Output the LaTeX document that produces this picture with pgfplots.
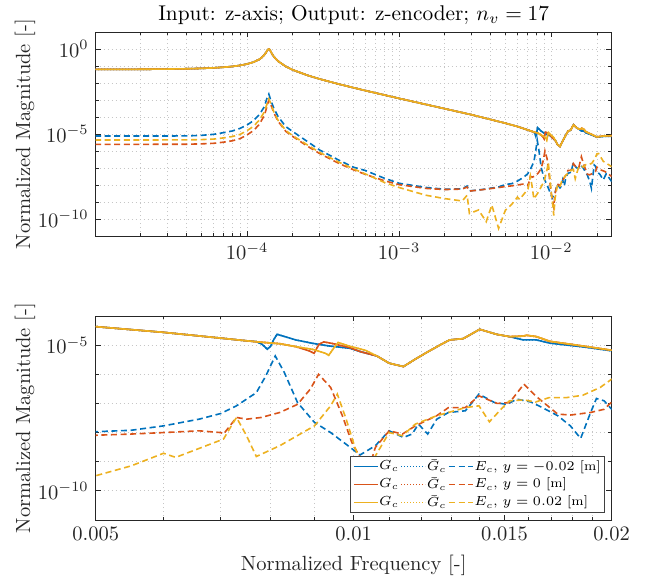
\RequirePackage{fix-cm}
\documentclass[border=0pt]{standalone}
\usepackage{pgfplots}
\pgfplotsset{compat=1.18}
\usepackage{pgfplotstable}
\definecolor{mb}{rgb}{0,0.447,0.741}
\definecolor{mr}{rgb}{0.85,0.325,0.098}
\definecolor{my}{rgb}{0.929,0.694,0.125}

\pgfplotstableread{
f m
1e-5 0.0632
2e-5 0.0640
3e-5 0.0661
4e-5 0.0687
5e-5 0.0723
6e-5 0.0774
7e-5 0.0845
8e-5 0.0942
9e-5 0.1085
1e-4 0.1307
1.1e-4 0.168
1.2e-4 0.242
1.25e-4 0.316
1.3e-4 0.457
1.33e-4 0.609
1.35e-4 0.756
1.37e-4 0.926
1.39e-4 1.0
1.41e-4 0.903
1.43e-4 0.727
1.46e-4 0.515
1.5e-4 0.353
1.6e-4 0.192
1.8e-4 0.093
2e-4 0.0589
2.5e-4 0.0282
3e-4 0.0172
4e-4 0.00865
6e-4 0.00357
1e-3 0.00124
2e-3 3.06e-4
3e-3 1.355e-4
4e-3 7.1e-5
5e-3 4.32e-5
6e-3 2.75e-5
7e-3 1.74e-5
7.5e-3 1.41e-5
7.7e-3 1.32e-5
7.82e-3 1.07e-5
7.93e-3 7.2e-6
8.0e-3 9.3e-6
8.07e-3 1.58e-5
8.14e-3 2.36e-5
8.26e-3 2.07e-5
8.56e-3 1.51e-5
8.95e-3 1.16e-5
9.35e-3 9.4e-6
9.9e-3 7.8e-6
1.02e-2 5.89e-6
1.064e-2 4.27e-6
1.1e-2 2.4e-6
1.143e-2 1.84e-6
1.18e-2 3.31e-6
1.216e-2 5.55e-6
1.26e-2 1.0e-5
1.294e-2 1.51e-5
1.342e-2 1.67e-5
1.37e-2 2.35e-5
1.403e-2 3.49e-5
1.468e-2 2.35e-5
1.52e-2 1.96e-5
1.577e-2 1.51e-5
1.634e-2 1.51e-5
1.694e-2 1.17e-5
1.853e-2 8.7e-6
1.995e-2 6.46e-6
2.2e-2 7.2e-6
2.5e-2 7.4e-6
}\Gb

\pgfplotstableread{
f m
1e-5 0.0632
2e-5 0.0640
3e-5 0.0661
4e-5 0.0687
5e-5 0.0723
6e-5 0.0774
7e-5 0.0845
8e-5 0.0942
9e-5 0.1085
1e-4 0.1307
1.1e-4 0.168
1.2e-4 0.242
1.25e-4 0.316
1.3e-4 0.457
1.33e-4 0.609
1.35e-4 0.756
1.37e-4 0.926
1.39e-4 1.0
1.41e-4 0.903
1.43e-4 0.727
1.46e-4 0.515
1.5e-4 0.353
1.6e-4 0.192
1.8e-4 0.093
2e-4 0.0589
2.5e-4 0.0282
3e-4 0.0172
4e-4 0.00865
6e-4 0.00357
1e-3 0.00124
2e-3 3.06e-4
3e-3 1.355e-4
4e-3 7.1e-5
5e-3 4.32e-5
6e-3 2.75e-5
7e-3 1.74e-5
7.5e-3 1.41e-5
7.8e-3 1.26e-5
8.2e-3 1.12e-5
8.56e-3 8.9e-6
8.88e-3 6.3e-6
8.99e-3 5.25e-6
9.11e-3 1.07e-5
9.23e-3 1.29e-5
9.43e-3 1.15e-5
9.88e-3 8.3e-6
1.02e-2 5.89e-6
1.064e-2 4.27e-6
1.1e-2 2.4e-6
1.143e-2 1.84e-6
1.18e-2 3.31e-6
1.216e-2 5.55e-6
1.26e-2 1.0e-5
1.294e-2 1.51e-5
1.342e-2 1.67e-5
1.37e-2 2.35e-5
1.403e-2 3.49e-5
1.468e-2 2.35e-5
1.52e-2 1.96e-5
1.577e-2 2.04e-5
1.591e-2 2.18e-5
1.634e-2 1.96e-5
1.694e-2 1.35e-5
1.853e-2 9.3e-6
1.995e-2 6.76e-6
2.2e-2 7.6e-6
2.5e-2 7.9e-6
}\Gr

\pgfplotstableread{
f m
1e-5 0.0632
2e-5 0.0640
3e-5 0.0661
4e-5 0.0687
5e-5 0.0723
6e-5 0.0774
7e-5 0.0845
8e-5 0.0942
9e-5 0.1085
1e-4 0.1307
1.1e-4 0.168
1.2e-4 0.242
1.25e-4 0.316
1.3e-4 0.457
1.33e-4 0.609
1.35e-4 0.756
1.37e-4 0.926
1.39e-4 1.0
1.41e-4 0.903
1.43e-4 0.727
1.46e-4 0.515
1.5e-4 0.353
1.6e-4 0.192
1.8e-4 0.093
2e-4 0.0589
2.5e-4 0.0282
3e-4 0.0172
4e-4 0.00865
6e-4 0.00357
1e-3 0.00124
2e-3 3.06e-4
3e-3 1.355e-4
4e-3 7.1e-5
5e-3 4.32e-5
6e-3 2.75e-5
7e-3 1.74e-5
7.5e-3 1.41e-5
7.8e-3 1.26e-5
8.2e-3 1.12e-5
8.56e-3 8.9e-6
8.95e-3 7.2e-6
9.27e-3 5.25e-6
9.35e-3 4.47e-6
9.49e-3 8.3e-6
9.59e-3 1.23e-5
9.88e-3 9.3e-6
1.033e-2 6.6e-6
1.064e-2 4.27e-6
1.1e-2 2.4e-6
1.143e-2 1.84e-6
1.18e-2 3.31e-6
1.216e-2 5.55e-6
1.26e-2 1.0e-5
1.294e-2 1.51e-5
1.342e-2 1.67e-5
1.37e-2 2.35e-5
1.403e-2 3.49e-5
1.468e-2 2.35e-5
1.52e-2 1.96e-5
1.577e-2 2.04e-5
1.591e-2 2.18e-5
1.634e-2 1.96e-5
1.694e-2 1.35e-5
1.853e-2 9.3e-6
1.995e-2 6.76e-6
2.2e-2 7.6e-6
2.5e-2 7.9e-6
}\Gy

\pgfplotstableread{
f m
1e-5 7.62e-6
2e-5 7.62e-6
4e-5 7.7e-6
5e-5 8.3e-6
6e-5 9.55e-6
7e-5 1.2e-5
8e-5 1.51e-5
9e-5 2.14e-5
1e-4 3.39e-5
1.1e-4 6.03e-5
1.2e-4 1.32e-4
1.3e-4 4.07e-4
1.35e-4 1.26e-3
1.39e-4 2.24e-3
1.43e-4 1.0e-3
1.5e-4 3.24e-4
1.6e-4 1.05e-4
1.8e-4 2.69e-5
2e-4 1.38e-5
2.5e-4 3.55e-6
3e-4 1.15e-6
4e-4 2.95e-7
5e-4 1.12e-7
6e-4 7.1e-8
8e-4 2.5e-8
1e-3 1.26e-8
1.5e-3 7.2e-9
2e-3 5.6e-9
2.6e-3 6.0e-9
2.8e-3 8.7e-9
2.9e-3 4.5e-9
3.5e-3 5.4e-9
4.5e-3 7.6e-9
5e-3 1.07e-8
5.5e-3 1.2e-8
6e-3 1.7e-8
6.6e-3 2.88e-8
7e-3 4.52e-8
7.3e-3 8.3e-8
7.7e-3 2.34e-7
7.9e-3 8.9e-7
8.1e-3 4.27e-6
8.3e-3 1.15e-6
8.6e-3 1.07e-7
9e-3 2.24e-8
9.4e-3 1.0e-8
9.9e-3 3.16e-9
1.017e-2 1.7e-9
1.06e-2 3.55e-9
1.1e-2 1.15e-8
1.143e-2 6.8e-9
1.17e-2 8.9e-9
1.19e-2 1.95e-8
1.22e-2 8.9e-9
1.25e-2 2.88e-8
1.29e-2 4.9e-8
1.35e-2 5.6e-8
1.40e-2 2.09e-7
1.46e-2 1.07e-7
1.51e-2 9.3e-8
1.55e-2 1.41e-7
1.61e-2 1.12e-7
1.66e-2 7.2e-8
1.73e-2 3.8e-8
1.79e-2 1.7e-8
1.84e-2 6.3e-9
1.89e-2 4.9e-8
1.92e-2 1.48e-7
1.96e-2 1.23e-7
2.0e-2 6.3e-8
2.1e-2 4e-8
2.2e-2 2e-8
2.3e-2 4.5e-8
2.5e-2 1.6e-8
}\Eb

\pgfplotstableread{
f m
1e-5 2.47e-6
2e-5 2.47e-6
4e-5 2.5e-6
5e-5 2.63e-6
6e-5 2.82e-6
7e-5 3.31e-6
8e-5 3.98e-6
9e-5 5.37e-6
1e-4 8.9e-6
1.1e-4 1.58e-5
1.2e-4 3.55e-5
1.3e-4 1.26e-4
1.35e-4 3.98e-4
1.39e-4 1.0e-3
1.43e-4 5.6e-4
1.5e-4 1.78e-4
1.6e-4 5.6e-5
1.8e-4 1.41e-5
2e-4 7.1e-6
2.5e-4 1.9e-6
3e-4 7.1e-7
4e-4 1.9e-7
5e-4 7.9e-8
6e-4 4.2e-8
8e-4 1.78e-8
1e-3 1.05e-8
1.5e-3 6.3e-9
2e-3 5.4e-9
2.6e-3 5.75e-9
2.8e-3 7.6e-9
2.9e-3 4.4e-9
3.5e-3 5.25e-9
4.5e-3 7.1e-9
5e-3 8.1e-9
5.5e-3 8.9e-9
6e-3 1.0e-8
6.6e-3 1.15e-8
7e-3 1.0e-8
7.05e-3 8.9e-9
7.3e-3 3.3e-8
7.5e-3 2.88e-8
7.8e-3 3.3e-8
8.2e-3 4.9e-8
8.6e-3 9.3e-8
8.9e-3 3.1e-7
9.1e-3 1.0e-6
9.4e-3 3.55e-7
9.7e-3 3.8e-8
9.95e-3 4.6e-9
1.02e-2 1.23e-9
1.04e-2 5e-10
1.06e-2 3.1e-9
1.1e-2 1.15e-8
1.14e-2 8.9e-9
1.18e-2 1.7e-8
1.25e-2 3.8e-8
1.29e-2 7.2e-8
1.35e-2 7.2e-8
1.40e-2 1.82e-7
1.47e-2 1.0e-7
1.52e-2 1.07e-7
1.58e-2 4.6e-7
1.63e-2 1.82e-7
1.73e-2 4.3e-8
1.79e-2 4.0e-8
1.89e-2 4.9e-8
1.96e-2 6.3e-8
2.0e-2 1.12e-7
2.1e-2 7.9e-8
2.25e-2 6.3e-8
2.5e-2 3.2e-8
}\Er

\pgfplotstableread{
f m
1e-5 4.44e-6
2e-5 4.44e-6
4e-5 4.5e-6
5e-5 4.68e-6
6e-5 5.0e-6
7e-5 5.9e-6
8e-5 7.1e-6
9e-5 9.5e-6
1e-4 1.58e-5
1.1e-4 2.82e-5
1.2e-4 6.3e-5
1.3e-4 2.0e-4
1.35e-4 5.6e-4
1.39e-4 1.15e-3
1.43e-4 6.3e-4
1.5e-4 2.0e-4
1.6e-4 6.3e-5
1.8e-4 1.58e-5
2e-4 7.9e-6
2.5e-4 2.24e-6
3e-4 8.3e-7
4e-4 2.24e-7
5e-4 8.9e-8
6e-4 4.5e-8
8e-4 1.41e-8
1e-3 7.1e-9
1.5e-3 2.5e-9
2e-3 1.58e-9
2.6e-3 1.15e-9
2.8e-3 2.5e-9
2.9e-3 2.1e-10
3.33e-3 3.4e-10
3.74e-3 6.9e-11
4.07e-3 6.6e-10
4.51e-3 2.8e-11
5.0e-3 3.3e-10
5.5e-3 7.2e-10
6.0e-3 1.95e-9
6.2e-3 1.41e-9
6.5e-3 2.4e-9
7.05e-3 6.0e-9
7.2e-3 1.7e-8
7.3e-3 3.3e-8
7.5e-3 7.8e-9
7.7e-3 1.51e-9
8.2e-3 3.55e-9
9.0e-3 1.7e-8
9.4e-3 8.3e-8
9.57e-3 2.09e-7
9.8e-3 2.88e-8
1.005e-2 2.7e-9
1.02e-2 9.5e-10
1.04e-2 1.6e-10
1.06e-2 1.58e-9
1.1e-2 1.0e-8
1.14e-2 7.8e-9
1.18e-2 1.95e-8
1.25e-2 3.8e-8
1.29e-2 4.9e-8
1.35e-2 7.2e-8
1.40e-2 8.3e-8
1.44e-2 2.34e-8
1.48e-2 5.6e-8
1.52e-2 1.23e-7
1.58e-2 1.32e-7
1.63e-2 1.12e-7
1.69e-2 1.58e-7
1.77e-2 1.58e-7
1.85e-2 1.9e-7
1.94e-2 3.55e-7
2.0e-2 6.8e-7
2.05e-2 7.1e-7
2.2e-2 2.5e-7
2.5e-2 1.2e-7
}\Ey

\pgfplotsset{
  myaxis/.style={
    scale only axis, width=258bp, height=102bp,
    grid=both,
    major grid style={gray!45, line width=0.4bp, dash pattern=on 0.5bp off 1.5bp},
    minor grid style={gray!45, line width=0.4bp, dash pattern=on 0.5bp off 1.5bp},
    tick align=inside,
    major tick length=2.6bp, minor tick length=1.6bp,
    axis line style={black!85, line width=0.5bp},
    every tick/.style={black!85, line width=0.4bp},
    tick label style={font=\fontsize{10.3}{12}\selectfont, text=black!85},
    every axis y label/.style={at={(axis description cs:-0.137,0.5)}, rotate=90, anchor=center, font=\fontsize{10.3}{12}\selectfont, text=black!85},
    every axis x label/.style={at={(axis description cs:0.5,0)}, yshift=-22.5bp, anchor=center, font=\fontsize{10.3}{12}\selectfont, text=black!85},
    every axis title/.style={at={(axis description cs:0.5,1)}, yshift=8.7bp, anchor=center, font=\fontsize{10.7}{12}\selectfont},
  },
  legend image code/.code={\draw[#1, line width=0.65bp] (0bp,0bp) -- (12bp,0bp);},
  Gs/.style={solid, line width=0.8bp},
  Gd/.style={line width=0.8bp, dash pattern=on 0.5bp off 1bp},
  Es/.style={line width=0.8bp, dash pattern=on 3bp off 1.8bp},
}

\begin{document}
\begin{tikzpicture}
\begin{loglogaxis}[myaxis, at={(0,142bp)}, anchor=south west,
  xmin=1.01e-5, xmax=0.025, ymin=1e-11, ymax=10,
  xtick={1e-4,1e-3,1e-2},
  minor xtick={2e-5,3e-5,4e-5,5e-5,6e-5,7e-5,8e-5,9e-5,2e-4,3e-4,4e-4,5e-4,6e-4,7e-4,8e-4,9e-4,2e-3,3e-3,4e-3,5e-3,6e-3,7e-3,8e-3,9e-3,2e-2},
  ytick={1e-10,1e-5,1},
  minor ytick={1e-9,1e-8,1e-7,1e-6,1e-4,1e-3,1e-2,1e-1,10},
  ylabel={Normalized Magnitude [-]},
  title={Input: z-axis; Output: z-encoder; $n_v = 17$},
]
\addplot[Gs, mb] table {\Gb};
\addplot[Gd, mb] table {\Gb};
\addplot[Es, mb] table {\Eb};
\addplot[Gs, mr] table {\Gr};
\addplot[Gd, mr] table {\Gr};
\addplot[Es, mr] table {\Er};
\addplot[Gs, my] table {\Gy};
\addplot[Gd, my] table {\Gy};
\addplot[Es, my] table {\Ey};
\end{loglogaxis}

\begin{loglogaxis}[myaxis, at={(0,0)}, anchor=south west,
  xmin=0.005, xmax=0.02, ymin=1e-11, ymax=1e-4,
  xtick={0.005,0.01,0.015,0.02},
  xticklabels={0.005,0.01,0.015,0.02},
  minor xtick={0.006,0.007,0.008,0.009,0.011,0.012,0.013,0.014,0.016,0.017,0.018,0.019},
  ytick={1e-10,1e-5},
  minor ytick={1e-11,1e-9,1e-8,1e-7,1e-6,1e-4},
  ylabel={Normalized Magnitude [-]},
  xlabel={Normalized Frequency [-]},
  legend columns=3,
  legend cell align=left,
  legend style={at={(0.987,0.034)}, anchor=south east,
    font=\fontsize{6.6}{7.5}\selectfont, draw=black!75, line width=0.5bp,
    fill=white, inner xsep=1.5bp, inner ysep=1.2bp, row sep=1.2bp,
    nodes={inner xsep=0.4bp, inner ysep=0.4bp, text=black},
    /tikz/every odd column/.append style={column sep=0bp},
    /tikz/every even column/.append style={column sep=0.6bp}},
]
\addplot[Gs, mb] table {\Gb}; \addlegendentry{$G_c$}
\addplot[Gd, mb] table {\Gb}; \addlegendentry{$\bar{G}_c$}
\addplot[Es, mb] table {\Eb}; \addlegendentry{$E_c$, $y = -0.02$ [m]}
\addplot[Gs, mr] table {\Gr}; \addlegendentry{$G_c$}
\addplot[Gd, mr] table {\Gr}; \addlegendentry{$\bar{G}_c$}
\addplot[Es, mr] table {\Er}; \addlegendentry{$E_c$, $y = 0$ [m]}
\addplot[Gs, my] table {\Gy}; \addlegendentry{$G_c$}
\addplot[Gd, my] table {\Gy}; \addlegendentry{$\bar{G}_c$}
\addplot[Es, my] table {\Ey}; \addlegendentry{$E_c$, $y = 0.02$ [m]}
\end{loglogaxis}
\pgfresetboundingbox
\useasboundingbox (-47.85bp,-31.5bp) rectangle (279.65bp,260bp);
\end{tikzpicture}
\end{document}
